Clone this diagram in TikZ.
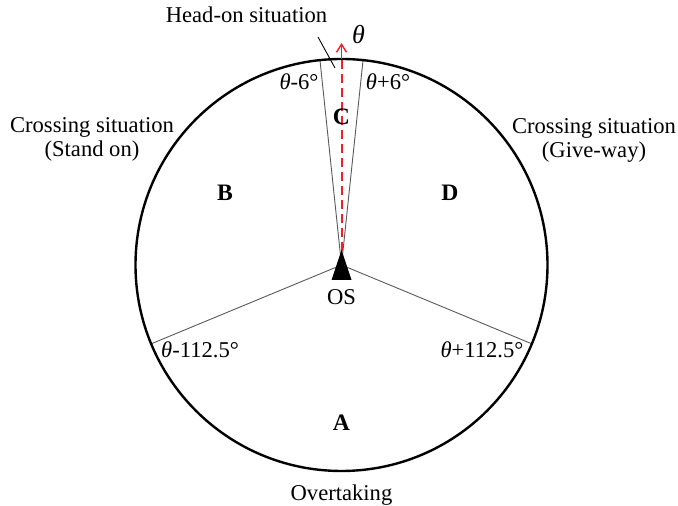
\documentclass[tikz,border=0pt]{standalone}
\usepackage{fontspec}
\setmainfont{Liberation Serif}
\usetikzlibrary{arrows.meta}
\definecolor{headred}{RGB}{240,30,40}
\tikzset{
    sector/.style={gray!70!black, line width=0.45pt},
    headline/.style={headred, line width=1pt, dash pattern=on 4.5pt off 2.5pt},
    lbl/.style={font=\fontsize{11.3}{12}\selectfont, inner sep=1pt, align=center},
    region/.style={font=\fontsize{11.8}{12}\selectfont\bfseries, inner sep=1pt}
}
\newcommand{\thet}{\textit{θ}}
\begin{document}
\begin{tikzpicture}[x=0.5pt, y=0.5pt]
    \useasboundingbox (-341.5,-241) rectangle (336.5,265);
    % Own ship at the centre
    \coordinate (centre) at (0,0);

    % Sector boundaries
    \coordinate (left6) at (96:206);
    \coordinate (right6) at (84:206);
    \coordinate (left112) at (202.5:206);
    \coordinate (right112) at (-22.5:206);
    \draw[sector] (centre) -- (left6);
    \draw[sector] (centre) -- (right6);
    \draw[sector] (centre) -- (left112);
    \draw[sector] (centre) -- (right112);

    % Outer circle
    \draw[line width=1.2pt] (centre) circle (206);

    % Heading arrow
    \coordinate (head) at (0,222);
    \draw[headline] (centre) -- (0,208);
    \draw[headred, line width=0.7pt, -{Straight Barb[length=4pt,width=5pt]}] (0,206) -- (head);
    \node[lbl, font=\fontsize{13}{13}\selectfont] (theta) at (17,230) {\thet};

    % Own ship symbol
    \fill (0,15) -- (-10,-15) -- (10,-15) -- cycle;
    \node[lbl] (os) at (0,-32) {OS};

    % Head-on label with leader
    \node[lbl] (headon) at (-95,250) {Head-on situation};
    \coordinate (leaderstart) at (-23.5,228);
    \coordinate (leaderend) at (-6.5,197);
    \draw[line width=0.45pt] (leaderstart) -- (leaderend);

    % Angle labels
    \node[lbl] (minus6) at (-42.5,183) {\thet-6°};
    \node[lbl] (plus6) at (46.5,183) {\thet+6°};
    \node[lbl] (minus112) at (-141.5,-85) {\thet-112.5°};
    \node[lbl] (plus112) at (140.5,-85) {\thet+112.5°};

    % Regions
    \node[region] (regC) at (0,148) {C};
    \node[region] (regB) at (-116.5,72) {B};
    \node[region] (regD) at (108.5,72) {D};
    \node[region] (regA) at (0,-158) {A};

    % Situation labels
    \node[lbl] (standon) at (-249.5,126) {Crossing situation\\(Stand on)};
    \node[lbl] (giveway) at (252.5,125) {Crossing situation\\(Give-way)};
    \node[lbl] (overtaking) at (0,-230) {Overtaking};
\end{tikzpicture}
\end{document}
